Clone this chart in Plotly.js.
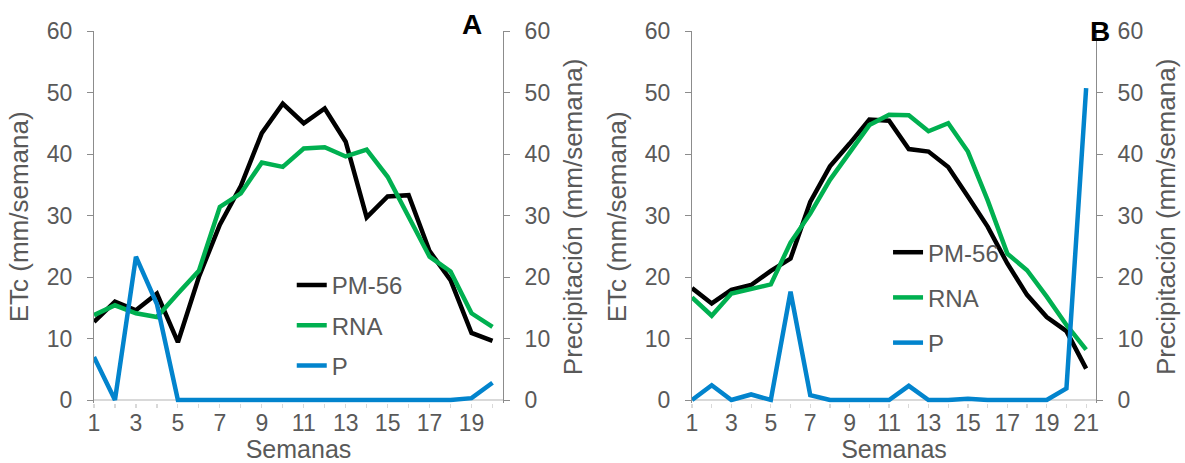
<!DOCTYPE html>
<html>
<head>
<meta charset="utf-8">
<script src="https://cdn.plot.ly/plotly-3.0.1.min.js"></script>
<style>html,body{margin:0;padding:0;background:#fff;}#chart{width:1185px;height:463px;}</style>
</head>
<body>
<div id="chart"></div>
<script>
// Panel A data (weeks 1-20)
const semanasA = [1,2,3,4,5,6,7,8,9,10,11,12,13,14,15,16,17,18,19,20];
const pm56A = [12.7,16.0,14.6,17.3,9.4,20.0,28.5,34.8,43.4,48.2,45.0,47.4,42.0,29.7,33.1,33.3,24.2,19.5,10.9,9.6];
const rnaA  = [13.8,15.4,14.1,13.5,17.3,21.0,31.4,33.6,38.6,37.9,40.9,41.1,39.6,40.7,36.3,29.8,23.3,20.9,14.1,11.9];
const pA    = [7.0,0.0,23.3,15.6,0.0,0,0,0,0,0,0,0,0,0,0,0,0,0,0.3,2.8];

// Panel B data (weeks 1-21)
const semanasB = [1,2,3,4,5,6,7,8,9,10,11,12,13,14,15,16,17,18,19,20,21];
const pm56B = [18.2,15.7,17.9,18.7,21.0,23.0,32.2,38.0,41.7,45.6,45.4,40.8,40.4,37.9,33.1,28.2,22.2,17.1,13.5,11.2,5.1];
const rnaB  = [16.7,13.7,17.3,18.0,18.8,25.6,30.3,35.8,40.4,44.7,46.4,46.3,43.7,45.0,40.4,32.5,23.8,21.1,16.8,12.2,8.2];
const pB    = [0.0,2.4,0.0,0.9,0.0,17.6,0.8,0.0,0,0,0,2.3,0,0,0.2,0,0,0,0,1.9,50.7];

const names = ['PM-56','RNA','P'];
const colors = ['#000000','#00b050','#0284cd'];
const yTicks = [0,10,20,30,40,50,60];

const FONT = 'Liberation Sans, Arial, sans-serif';
const GREY = '#595959';
const AXIS = '#8c8c8c';

function tr(x, y, i, xa, ya, leg) {
  return {x: x, y: y, name: names[i], type: 'scatter', mode: 'lines',
    line: {color: colors[i], width: 4.5}, xaxis: xa, yaxis: ya,
    legend: leg, legendgroup: leg + names[i], hoverinfo: 'skip'};
}

const data = [
  tr(semanasA, pm56A, 0, 'x', 'y', 'legend'),
  tr(semanasA, rnaA, 1, 'x', 'y', 'legend'),
  tr(semanasA, pA, 2, 'x', 'y2', 'legend'),
  tr(semanasB, pm56B, 0, 'x2', 'y3', 'legend2'),
  tr(semanasB, rnaB, 1, 'x2', 'y3', 'legend2'),
  tr(semanasB, pB, 2, 'x2', 'y4', 'legend2')
];

const yDom = [0.1301, 0.9330];

function xAxis(dom, maxR, anchor) {
  return {domain: dom, range: [1, maxR], anchor: anchor,
    tick0: 1, dtick: 2, ticks: 'outside', ticklen: 4, tickcolor: '#d9d9d9', tickwidth: 1.2,
    minor: {tick0: 1, dtick: 1, ticks: 'outside', ticklen: 4, tickcolor: '#d9d9d9', tickwidth: 1.2},
    showline: false, showgrid: false, zeroline: false,
    ticklabelstandoff: -4,
    tickfont: {family: FONT, size: 23, color: GREY},
    title: {text: 'Semanas', font: {family: FONT, size: 25, color: GREY}, standoff: 6}};
}
function yAxis(anchor, side, overlay, title) {
  const o = {domain: yDom, range: [-0.45, 60], anchor: anchor, side: side,
    tickvals: yTicks, ticktext: yTicks.map(String),
    ticks: 'outside', ticklen: 6, tickcolor: AXIS, tickwidth: 1,
    showline: true, linecolor: AXIS, linewidth: 1, showgrid: false,
    zeroline: !overlay, zerolinecolor: '#d9d9d9', zerolinewidth: 1.5,
    ticklabelstandoff: 10,
    tickfont: {family: FONT, size: 23, color: GREY},
    title: {text: title, font: {family: FONT, size: 26, color: GREY}, standoff: overlay ? 14 : 10}};
  if (overlay) o.overlaying = overlay;
  return o;
}

const legBase = {font: {family: FONT, size: 24, color: GREY}, bgcolor: 'rgba(0,0,0,0)',
  xanchor: 'left', yanchor: 'top', traceorder: 'grouped'};

const layout = {
  width: 1185, height: 463,
  margin: {l: 0, r: 0, t: 0, b: 0},
  paper_bgcolor: '#ffffff', plot_bgcolor: 'rgba(0,0,0,0)',
  showlegend: true,
  xaxis: xAxis([0.07932, 0.42447], 20.5, 'y'),
  xaxis2: xAxis([0.58397, 0.92489], 21.5, 'y3'),
  yaxis: yAxis('x', 'left', null, 'ETc (mm/semana)'),
  yaxis2: yAxis('x', 'right', 'y', 'Precipitación (mm/semana)'),
  yaxis3: yAxis('x2', 'left', null, 'ETc (mm/semana)'),
  yaxis4: yAxis('x2', 'right', 'y3', 'Precipitación (mm/semana)'),
  legend: Object.assign({}, legBase, {x: 0.2462, y: 0.432, tracegroupgap: 6}),
  legend2: Object.assign({}, legBase, {x: 0.7494, y: 0.503, tracegroupgap: 11}),
  annotations: [
    {text: '<b>A</b>', xref: 'paper', yref: 'paper', x: 0.3987, y: 0.948, showarrow: false,
     font: {family: FONT, size: 28, color: '#000000'}, xanchor: 'center', yanchor: 'middle'},
    {text: '<b>B</b>', xref: 'paper', yref: 'paper', x: 0.9283, y: 0.931, showarrow: false,
     font: {family: FONT, size: 28, color: '#000000'}, xanchor: 'center', yanchor: 'middle'}
  ]
};

Plotly.newPlot('chart', data, layout, {staticPlot: true, displayModeBar: false});
</script>
</body>
</html>
